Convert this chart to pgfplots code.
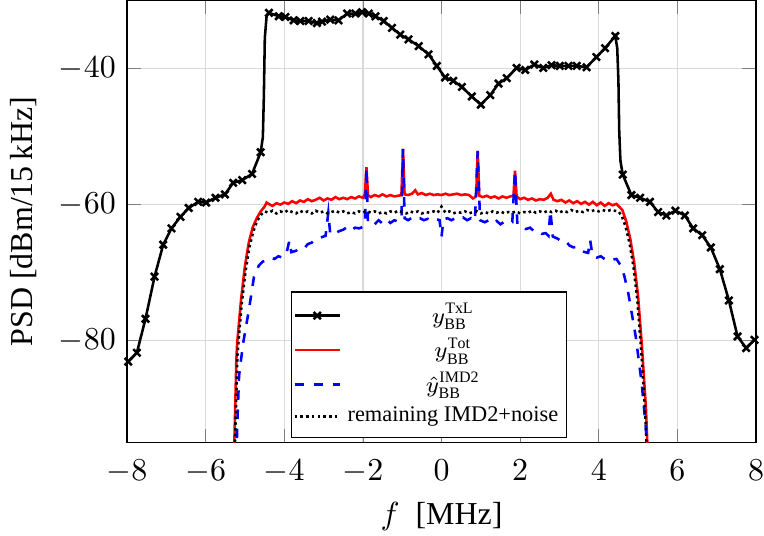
\documentclass[border=0pt]{standalone}
\usepackage{fontspec}
\setmainfont{Liberation Serif}
\usepackage{pgfplots}
\pgfplotsset{compat=1.18}
\begin{document}
\begin{tikzpicture}
\begin{axis}[
  scale only axis,
  width=197pt, height=138.4pt,
  clip bounding box=upper bound,
  xmin=-8, xmax=8, ymin=-95, ymax=-30,
  xtick={-8,-6,...,8},
  ytick={-80,-60,-40},
  grid=major,
  grid style={gray!30, line width=0.4pt},
  xticklabel style={inner xsep=0pt, yshift=-2pt},
  xlabel={$f$~~[MHz]},
  xlabel style={inner ysep=1.5pt, yshift=-1pt},
  ylabel={PSD [dBm/15\,kHz]},
  legend style={at={(0.48,0.01)}, anchor=south, font=\scriptsize, inner xsep=0.5pt,
    nodes={inner ysep=1.5pt, inner xsep=2pt}},
  legend cell align=center,
  legend image code/.code={\draw[mark repeat=2, mark phase=2] plot coordinates {(0cm,0cm) (0.25cm,0cm) (0.5cm,0cm)};},
]
  % legend entry for the TxL curve (line and marks are drawn separately below)
  \addlegendimage{black, thick, mark=x, mark size=1.6pt}
  \addlegendentry{$y_{\mathrm{BB}}^{\mathrm{TxL}}$}

  \addplot[red, thick] coordinates {
    (-5.30,-100) (-5.27,-95) (-5.22,-83) (-5.20,-80.5) (-5.10,-74) (-5.00,-69)
    (-4.90,-65.5) (-4.80,-63.3) (-4.70,-62.0) (-4.60,-61.0) (-4.50,-60.3) (-4.45,-59.7)
    (-4.40,-59.9) (-4.30,-60.2) (-4.20,-59.8) (-4.10,-60.0) (-4.00,-59.7) (-3.90,-59.9)
    (-3.80,-59.5) (-3.70,-59.8) (-3.60,-59.4) (-3.50,-59.6) (-3.40,-59.2) (-3.30,-59.5)
    (-3.20,-59.3) (-3.10,-59.0) (-3.00,-59.4) (-2.90,-59.1) (-2.80,-59.3) (-2.70,-58.9)
    (-2.60,-59.2) (-2.50,-59.0) (-2.40,-59.2) (-2.30,-58.9) (-2.20,-59.1) (-2.10,-58.8)
    (-2.00,-59.0) (-1.95,-58.5) (-1.91,-54.5) (-1.87,-58.6) (-1.80,-58.9) (-1.70,-58.6)
    (-1.60,-58.8) (-1.50,-58.5) (-1.40,-58.8) (-1.30,-58.6) (-1.20,-58.8) (-1.10,-58.7)
    (-1.02,-58.6) (-0.98,-51.8) (-0.94,-58.5) (-0.85,-58.6) (-0.75,-58.4) (-0.67,-57.9)
    (-0.60,-58.5) (-0.50,-58.3) (-0.40,-58.6) (-0.30,-58.4) (-0.20,-58.6) (-0.10,-58.5)
    (0.00,-58.6) (0.10,-58.4) (0.20,-58.6) (0.30,-58.5) (0.40,-58.4) (0.50,-58.6)
    (0.60,-58.5) (0.70,-58.6) (0.80,-59.1) (0.88,-58.8) (0.92,-52.1) (0.96,-58.7)
    (1.05,-58.9) (1.15,-58.7) (1.25,-59.0) (1.35,-58.8) (1.45,-59.1) (1.55,-58.8)
    (1.65,-59.0) (1.75,-58.8) (1.83,-58.7) (1.87,-55.0) (1.91,-58.8) (2.00,-59.2)
    (2.10,-59.0) (2.20,-59.3) (2.30,-59.1) (2.40,-59.4) (2.50,-59.2) (2.60,-59.3)
    (2.70,-59.0) (2.78,-58.4) (2.85,-59.3) (2.95,-59.5) (3.05,-59.3) (3.15,-59.7)
    (3.25,-59.4) (3.35,-59.8) (3.45,-59.5) (3.55,-59.9) (3.65,-59.6) (3.75,-60.0)
    (3.85,-59.6) (3.95,-60.1) (4.05,-59.7) (4.15,-60.2) (4.25,-59.8) (4.35,-60.1)
    (4.45,-59.9) (4.50,-60.2) (4.60,-60.8) (4.70,-62.5) (4.80,-65.0) (4.90,-68.5)
    (5.00,-73.5) (5.10,-81) (5.20,-90) (5.27,-100)
  };
  \addlegendentry{$y_{\mathrm{BB}}^{\mathrm{Tot}}$}

  \addplot[blue, thick, dashed] coordinates {
    (-5.22,-100) (-5.20,-93) (-5.15,-85.2) (-5.05,-80.5) (-4.90,-75.5) (-4.77,-70.6)
    (-4.65,-69.0) (-4.55,-68.4) (-4.45,-68.2) (-4.35,-67.8) (-4.25,-68.0) (-4.15,-67.6)
    (-4.05,-67.8) (-3.95,-67.3) (-3.87,-65.3) (-3.82,-67.0) (-3.70,-66.8) (-3.60,-66.4)
    (-3.50,-66.5) (-3.40,-65.8) (-3.30,-65.6) (-3.20,-65.0) (-3.10,-64.9) (-2.95,-64.6)
    (-2.88,-61.2) (-2.83,-64.4) (-2.70,-64.2) (-2.60,-63.9) (-2.50,-63.7) (-2.40,-63.3)
    (-2.30,-63.8) (-2.20,-63.4) (-2.10,-63.5) (-2.00,-63.3) (-1.95,-62.8) (-1.91,-54.5)
    (-1.87,-62.6) (-1.80,-62.4) (-1.70,-62.9) (-1.60,-62.3) (-1.50,-62.8) (-1.40,-62.2)
    (-1.30,-62.7) (-1.20,-62.3) (-1.10,-62.5) (-1.02,-62.2) (-0.98,-51.8) (-0.94,-62.0)
    (-0.85,-62.3) (-0.75,-61.9) (-0.65,-62.2) (-0.55,-62.0) (-0.45,-62.3) (-0.35,-62.1)
    (-0.25,-62.4) (-0.15,-62.1) (-0.05,-62.3) (0.00,-64.7) (0.05,-62.2) (0.15,-62.0)
    (0.25,-62.3) (0.35,-62.0) (0.45,-62.2) (0.55,-61.9) (0.65,-62.3) (0.75,-62.0)
    (0.85,-62.4) (0.92,-52.1) (0.98,-62.3) (1.10,-62.6) (1.20,-62.3) (1.30,-62.8)
    (1.40,-62.4) (1.50,-62.9) (1.60,-62.5) (1.70,-62.8) (1.80,-62.6) (1.87,-55.0)
    (1.93,-63.0) (2.05,-63.2) (2.15,-63.6) (2.25,-63.4) (2.35,-63.9) (2.45,-63.8)
    (2.55,-64.3) (2.65,-64.2) (2.72,-64.6) (2.77,-60.9) (2.83,-64.7) (2.95,-65.0)
    (3.05,-65.4) (3.15,-65.3) (3.25,-66.0) (3.35,-66.3) (3.45,-66.2) (3.55,-66.8)
    (3.65,-67.0) (3.73,-67.1) (3.78,-65.2) (3.84,-67.5) (3.95,-67.8) (4.05,-67.6)
    (4.15,-68.0) (4.25,-67.8) (4.35,-68.1) (4.45,-68.0) (4.55,-68.9) (4.65,-70.5)
    (4.75,-73.0) (4.94,-79.4) (5.09,-86.2) (5.20,-93) (5.24,-100)
  };
  \addlegendentry{$\hat{y}_{\mathrm{BB}}^{\mathrm{IMD2}}$}

  \addplot[black, thick, densely dotted] coordinates {
    (-5.28,-100) (-5.24,-92) (-5.19,-82) (-5.09,-75) (-4.99,-70) (-4.89,-66.3)
    (-4.79,-64) (-4.69,-62.4) (-4.59,-61.5) (-4.50,-61.0)
    (-4.40,-61.2) (-4.30,-60.9) (-4.20,-61.3) (-4.10,-61.0) (-4.00,-61.2) (-3.90,-60.8)
    (-3.80,-61.1) (-3.70,-61.3) (-3.60,-60.9) (-3.50,-61.2) (-3.40,-61.0) (-3.30,-61.3)
    (-3.20,-60.9) (-3.10,-61.2) (-3.00,-61.0) (-2.90,-61.3) (-2.80,-61.1) (-2.70,-60.9)
    (-2.60,-61.2) (-2.50,-61.0) (-2.40,-61.3) (-2.30,-61.1) (-2.20,-61.3) (-2.10,-61.0)
    (-2.00,-61.2) (-1.90,-60.9) (-1.80,-61.2) (-1.70,-61.0) (-1.60,-61.3) (-1.50,-61.1)
    (-1.40,-61.3) (-1.30,-61.0) (-1.20,-61.2) (-1.10,-60.9) (-1.00,-61.1) (-0.90,-61.3)
    (-0.80,-61.0) (-0.70,-61.2) (-0.60,-61.0) (-0.50,-61.3) (-0.40,-61.1) (-0.30,-61.2)
    (-0.20,-61.0) (-0.10,-61.2) (0.00,-60.3) (0.10,-61.2) (0.20,-61.0) (0.30,-61.3)
    (0.40,-61.1) (0.50,-61.2) (0.60,-61.0) (0.70,-61.3) (0.80,-61.1) (0.90,-61.0)
    (1.00,-61.3) (1.10,-61.1) (1.20,-61.3) (1.30,-61.0) (1.40,-61.2) (1.50,-61.0)
    (1.60,-61.3) (1.70,-61.1) (1.80,-61.2) (1.90,-61.0) (2.00,-61.3) (2.10,-61.1)
    (2.20,-61.2) (2.30,-60.9) (2.40,-61.2) (2.50,-61.0) (2.60,-61.2) (2.70,-60.9)
    (2.80,-61.1) (2.90,-60.9) (3.00,-61.2) (3.10,-60.9) (3.20,-61.1) (3.30,-60.8)
    (3.40,-61.1) (3.50,-60.9) (3.60,-61.1) (3.70,-60.8) (3.80,-61.0) (3.90,-60.8)
    (4.00,-61.0) (4.10,-60.8) (4.20,-61.0) (4.30,-60.8) (4.40,-60.9) (4.50,-61.0)
    (4.58,-61.6) (4.68,-63.2) (4.78,-65.6) (4.88,-69.0) (4.98,-74) (5.08,-81.5)
    (5.18,-90.5) (5.25,-100)
  };
  \addlegendentry{remaining IMD2+noise}

  % TxL: line through all points, marks only at the sampled points
  \addplot[black, thick, forget plot] coordinates {
    (-7.97,-83.1) (-7.75,-81.8) (-7.53,-76.8) (-7.30,-70.6) (-7.08,-65.9) (-6.87,-63.5)
    (-6.64,-61.8) (-6.43,-60.5) (-6.19,-59.6) (-5.99,-59.7) (-5.75,-59.0) (-5.51,-58.5)
    (-5.30,-56.8) (-5.07,-56.4) (-4.82,-55.5) (-4.60,-52.3) (-4.545,-50.1) (-4.52,-44.2)
    (-4.495,-35.5) (-4.45,-32.3) (-4.39,-31.8) (-4.14,-32.3) (-3.97,-32.4) (-3.76,-32.9)
    (-3.59,-33.0) (-3.38,-33.0) (-3.17,-33.3) (-3.04,-33.1) (-2.83,-32.8) (-2.62,-32.9)
    (-2.40,-31.9) (-2.19,-31.9) (-2.02,-31.7) (-1.85,-31.9) (-1.68,-32.3) (-1.47,-33.0)
    (-1.26,-34.0) (-1.05,-35.0) (-0.84,-35.7) (-0.58,-36.7) (-0.33,-37.9) (-0.12,-39.6)
    (0.09,-41.3) (0.30,-41.8) (0.52,-42.7) (0.77,-44.1) (1.00,-45.3) (1.24,-43.9)
    (1.45,-42.2) (1.66,-41.4) (1.91,-39.9) (2.13,-40.2) (2.36,-39.4) (2.59,-39.9)
    (2.80,-39.5) (3.01,-39.6) (3.23,-39.6) (3.44,-39.6) (3.69,-39.8) (3.94,-38.3)
    (4.16,-37.0) (4.42,-35.2) (4.47,-37.0) (4.50,-41.8) (4.52,-49.1) (4.55,-53.5)
    (4.61,-55.6) (4.83,-58.6) (5.05,-59.0) (5.30,-59.6) (5.51,-61.1) (5.72,-61.6)
    (5.95,-60.9) (6.19,-61.6) (6.40,-63.5) (6.63,-64.5) (6.85,-66.3) (7.08,-69.5)
    (7.31,-74.1) (7.53,-79.4) (7.75,-81.1) (7.96,-79.9)
  };
  \addplot[black, thick, only marks, mark=x, mark size=1.6pt, forget plot] coordinates {
    (-7.97,-83.1) (-7.75,-81.8) (-7.53,-76.8) (-7.30,-70.6) (-7.08,-65.9) (-6.87,-63.5)
    (-6.64,-61.8) (-6.43,-60.5) (-6.19,-59.6) (-5.99,-59.7) (-5.75,-59.0) (-5.51,-58.5)
    (-5.30,-56.8) (-5.07,-56.4) (-4.82,-55.5) (-4.60,-52.3)
    (-4.39,-31.8) (-4.14,-32.3) (-3.97,-32.4) (-3.76,-32.9)
    (-3.59,-33.0) (-3.38,-33.0) (-3.17,-33.3) (-3.04,-33.1) (-2.83,-32.8) (-2.62,-32.9)
    (-2.40,-31.9) (-2.19,-31.9) (-2.02,-31.7) (-1.85,-31.9) (-1.68,-32.3) (-1.47,-33.0)
    (-1.26,-34.0) (-1.05,-35.0) (-0.84,-35.7) (-0.58,-36.7) (-0.33,-37.9) (-0.12,-39.6)
    (0.09,-41.3) (0.30,-41.8) (0.52,-42.7) (0.77,-44.1) (1.00,-45.3) (1.24,-43.9)
    (1.45,-42.2) (1.66,-41.4) (1.91,-39.9) (2.13,-40.2) (2.36,-39.4) (2.59,-39.9)
    (2.80,-39.5) (3.01,-39.6) (3.23,-39.6) (3.44,-39.6) (3.69,-39.8) (3.94,-38.3)
    (4.16,-37.0) (4.42,-35.2)
    (4.61,-55.6) (4.83,-58.6) (5.05,-59.0) (5.30,-59.6) (5.51,-61.1) (5.72,-61.6)
    (5.95,-60.9) (6.19,-61.6) (6.40,-63.5) (6.63,-64.5) (6.85,-66.3) (7.08,-69.5)
    (7.31,-74.1) (7.53,-79.4) (7.75,-81.1) (7.96,-79.9)
  };
\end{axis}
\end{tikzpicture}
\end{document}
